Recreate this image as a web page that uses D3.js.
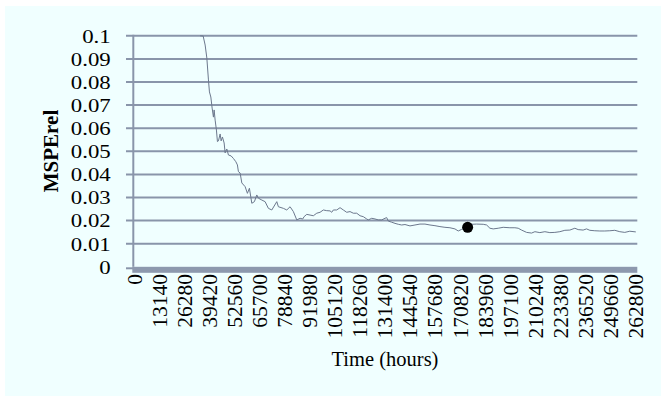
<!DOCTYPE html>
<html>
<head>
<meta charset="utf-8">
<script src="https://cdn.jsdelivr.net/npm/d3@7"></script>
<style>
  html, body { margin: 0; padding: 0; background: #ffffff; }
  svg { display: block; }
  text { font-family: "Liberation Serif", "Times New Roman", Times, serif; fill: #000; }
</style>
</head>
<body>
<svg id="chart" width="661" height="401"></svg>
<script>
// Elapsed time (hours) and relative mean squared prediction error
const hours = [
  34551, 36122, 37169, 38058, 38896, 39420, 40152, 40833, 41514, 41880,
  42404, 43084, 43608, 44131, 45021, 45545, 46225, 47115, 47639, 48528,
  49366, 50780, 51984, 53240, 54078, 54601, 55491, 56381, 58109, 59313,
  60360, 61616, 62977, 64233, 65071, 66851, 68579, 70306, 72086, 74704,
  75541, 78159, 79938, 81666, 83394, 85173, 86901, 88315, 88995, 90408,
  92136, 93864, 95643, 97371, 99099, 100878, 102606, 103496, 104333, 106113,
  107841, 109569, 111348, 113076, 114804, 116583, 118311, 120039, 121818, 122656,
  124436, 126164, 127891, 129671, 131399, 132288, 133126, 134906, 136634, 138361,
  140141, 141869, 144486, 147104, 149721, 152339, 154956, 157574, 160191, 162809,
  165426, 168044, 169771, 171551, 174168, 176786, 179403, 182858, 184638, 186366,
  188094, 190711, 193329, 196836, 199454, 201181, 202961, 205578, 208196, 209924,
  212541, 215159, 217776, 220394, 223011, 225629, 228246, 230864, 232591, 235209,
  236989, 238716, 241334, 243951, 246569, 249186, 251804, 254421, 257039, 259656,
  262800
];
const mspe = [
  0.1000, 0.0999, 0.0960, 0.0904, 0.0809, 0.0757, 0.0735, 0.0687, 0.0648, 0.0679,
  0.0635, 0.0592, 0.0542, 0.0545, 0.0575, 0.0545, 0.0562, 0.0536, 0.0493, 0.0510,
  0.0484, 0.0480, 0.0469, 0.0455, 0.0441, 0.0412, 0.0406, 0.0363, 0.0347, 0.0318,
  0.0340, 0.0275, 0.0282, 0.0311, 0.0297, 0.0289, 0.0282, 0.0253, 0.0246, 0.0282,
  0.0260, 0.0253, 0.0246, 0.0260, 0.0239, 0.0203, 0.0210, 0.0207, 0.0217, 0.0227,
  0.0224, 0.0221, 0.0232, 0.0236, 0.0246, 0.0243, 0.0242, 0.0236, 0.0246, 0.0246,
  0.0256, 0.0246, 0.0236, 0.0239, 0.0232, 0.0232, 0.0221, 0.0217, 0.0207, 0.0203,
  0.0210, 0.0207, 0.0203, 0.0203, 0.0210, 0.0213, 0.0198, 0.0193, 0.0188, 0.0184,
  0.0181, 0.0183, 0.0177, 0.0181, 0.0185, 0.0185, 0.0181, 0.0178, 0.0174, 0.0171,
  0.0169, 0.0164, 0.0155, 0.0162, 0.0169, 0.0184, 0.0185, 0.0184, 0.0181, 0.0167,
  0.0164, 0.0167, 0.0171, 0.0169, 0.0169, 0.0167, 0.0159, 0.0149, 0.0146, 0.0152,
  0.0148, 0.0152, 0.0148, 0.0149, 0.0152, 0.0158, 0.0159, 0.0167, 0.0161, 0.0159,
  0.0164, 0.0158, 0.0156, 0.0155, 0.0155, 0.0156, 0.0158, 0.0152, 0.0149, 0.0154,
  0.0151
];

// Highlighted observation
const markerHours = [174700];
const markerValue = [0.0171];

// Axis tick labels
const xTickLabels = [0, 13140, 26280, 39420, 52560, 65700, 78840, 91980, 105120,
  118260, 131400, 144540, 157680, 170820, 183960, 197100, 210240, 223380,
  236520, 249660, 262800];
const yTickLabels = [0, 0.01, 0.02, 0.03, 0.04, 0.05, 0.06, 0.07, 0.08, 0.09, 0.1];

const svg = d3.select("#chart");
const axisColor = "#8995aa";

// Panel background
svg.append("rect")
  .attr("x", 5).attr("y", 6)
  .attr("width", 656).attr("height", 390)
  .attr("fill", "#f0ffff");

const x = d3.scaleLinear().domain([0, 262800]).range([134.2, 635.8]);
const y = d3.scaleLinear().domain([0, 0.1]).range([266.8, 35.8]);
const plotLeft = 133.3, plotRight = 637.3;

// Horizontal gridlines, reaching left of the axis as tick marks
svg.append("g").selectAll("line")
  .data(yTickLabels.filter(d => d > 0))
  .join("line")
  .attr("x1", 126).attr("x2", plotRight)
  .attr("y1", d => y(d)).attr("y2", d => y(d))
  .attr("stroke", axisColor).attr("stroke-width", 2);

// Tick mark at zero
svg.append("line")
  .attr("x1", 126).attr("x2", plotLeft)
  .attr("y1", y(0) + 1.5).attr("y2", y(0) + 1.5)
  .attr("stroke", axisColor).attr("stroke-width", 2);

// Vertical axis
svg.append("line")
  .attr("x1", plotLeft).attr("x2", plotLeft)
  .attr("y1", y(0.1) - 1).attr("y2", y(0))
  .attr("stroke", axisColor).attr("stroke-width", 2);

// Floor band under the plot
svg.append("rect")
  .attr("x", plotLeft - 1).attr("y", y(0))
  .attr("width", plotRight - plotLeft + 1).attr("height", 6)
  .attr("fill", "#8d99ae");

// Y tick labels
svg.append("g").selectAll("text")
  .data(yTickLabels)
  .join("text")
  .attr("transform", d => `translate(110.7,${y(d) + 6.8}) scale(1.17,1)`)
  .attr("text-anchor", "end")
  .attr("font-size", 19.5)
  .text(d => d === 0 ? "0" : String(d));

// X tick labels (vertical)
svg.append("g").selectAll("text")
  .data(xTickLabels)
  .join("text")
  .attr("transform", d => `translate(${x(d)},274) rotate(-90)`)
  .attr("text-anchor", "end")
  .attr("dy", "0.34em")
  .attr("font-size", 21.5)
  .text(d => String(d));

// Axis titles
svg.append("text")
  .attr("x", 385).attr("y", 365.5)
  .attr("text-anchor", "middle")
  .attr("font-size", 20.5)
  .text("Time (hours)");

svg.append("text")
  .attr("transform", "translate(57.5,151) rotate(-90)")
  .attr("text-anchor", "middle")
  .attr("font-size", 21)
  .attr("font-weight", "bold")
  .text("MSPErel");

// Error curve
const series = hours.map((h, i) => [h, mspe[i]]);
svg.append("path")
  .datum(series)
  .attr("fill", "none")
  .attr("stroke", "#6c788d")
  .attr("stroke-width", 1)
  .attr("stroke-linejoin", "round")
  .attr("d", d3.line().x(d => x(d[0])).y(d => y(d[1])));

// Marker
svg.append("g").selectAll("circle")
  .data(markerHours.map((h, i) => [h, markerValue[i]]))
  .join("circle")
  .attr("cx", d => x(d[0])).attr("cy", d => y(d[1]))
  .attr("r", 5.5)
  .attr("fill", "#000");
</script>
</body>
</html>
